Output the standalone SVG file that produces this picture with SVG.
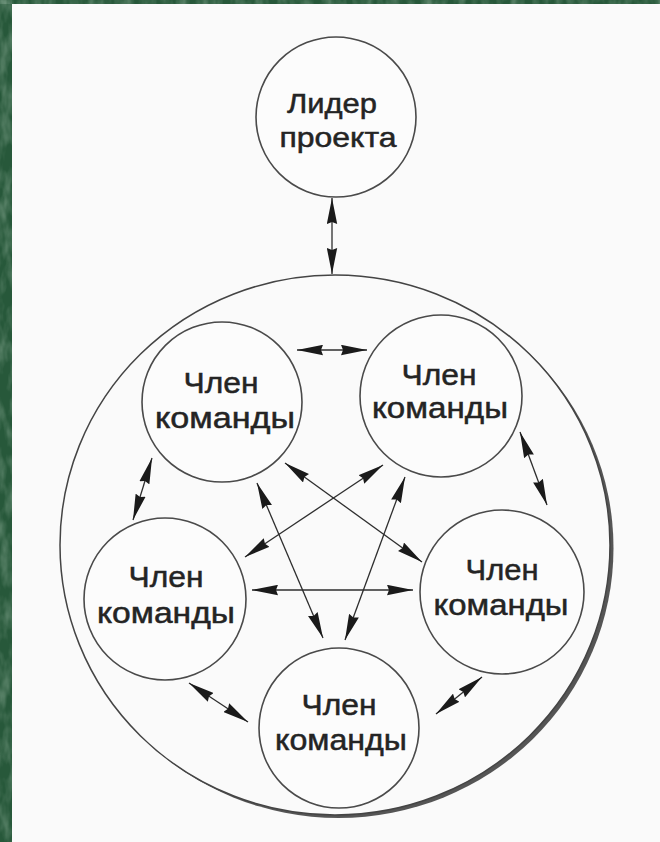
<svg xmlns="http://www.w3.org/2000/svg" width="660" height="842" viewBox="0 0 660 842">
  <defs>
    <style>
      .node { fill: #fcfcfc; stroke: #4a4a4a; stroke-width: 1.6; }
      .t { font-family: "Liberation Sans", Arial, sans-serif; font-size: 30px; fill: #242424; stroke: #242424; stroke-width: 0.5; text-anchor: middle; }
      .lt { font-family: "Liberation Sans", Arial, sans-serif; font-size: 28px; fill: #242424; stroke: #242424; stroke-width: 0.5; text-anchor: middle; }
      .conn { stroke: #2e2e2e; stroke-width: 1.3; fill: none; marker-start: url(#ah); marker-end: url(#ah); }
    </style>
    <marker id="ah" viewBox="0 0 26 11" refX="26" refY="5.5" markerWidth="26" markerHeight="11" markerUnits="userSpaceOnUse" orient="auto-start-reverse">
      <path d="M0,0.3 L26,5.5 L0,10.7 L2,5.5 z" fill="#1a1a1a"/>
    </marker>
    <filter id="marble" x="0" y="0" width="100%" height="100%">
      <feTurbulence type="fractalNoise" baseFrequency="0.09 0.035" numOctaves="3" seed="7" result="n"/>
      <feColorMatrix in="n" type="matrix" values="0 0 0 0 0.75  0 0 0 0 0.9  0 0 0 0 0.78  1.4 0 0 0 -0.55"/>
    </filter>
  </defs>

  <g id="background">
    <rect x="0" y="0" width="660" height="842" fill="#fafafa"/>
    <rect x="0" y="0" width="12" height="842" fill="#27583a"/>
    <rect x="0" y="0" width="660" height="4" fill="#27583a"/>
    <rect x="0" y="0" width="12" height="842" filter="url(#marble)" opacity="0.45"/>
    <rect x="0" y="0" width="660" height="4" filter="url(#marble)" opacity="0.45"/>
  </g>

  <g id="team-boundary">
    <ellipse cx="338.5" cy="548" rx="275" ry="270" fill="#555"/>
    <ellipse cx="335" cy="545" rx="275" ry="270" fill="#fafafa" stroke="#444" stroke-width="1.5"/>
  </g>

  <g id="connectors">
    <line class="conn" x1="332" y1="198" x2="332" y2="274"/>
    <line class="conn" x1="297" y1="350" x2="367" y2="350"/>
    <line class="conn" x1="152" y1="458" x2="133" y2="520"/>
    <line class="conn" x1="520" y1="432" x2="547" y2="505"/>
    <line class="conn" x1="189" y1="683" x2="248" y2="722"/>
    <line class="conn" x1="482" y1="677" x2="436" y2="714"/>
    <line class="conn" x1="252" y1="590" x2="413" y2="590"/>
    <line class="conn" x1="285" y1="463" x2="422" y2="562"/>
    <line class="conn" x1="383" y1="465" x2="245" y2="557"/>
    <line class="conn" x1="257" y1="483" x2="323" y2="638"/>
    <line class="conn" x1="405" y1="477" x2="345" y2="640"/>
  </g>

  <g id="leader">
    <circle class="node" cx="336" cy="117" r="80"/>
    <text class="lt" x="332" y="113" textLength="90" lengthAdjust="spacingAndGlyphs">Лидер</text>
    <text class="lt" x="338" y="147" textLength="117" lengthAdjust="spacingAndGlyphs">проекта</text>
  </g>

  <g id="member-top-left">
    <circle class="node" cx="222" cy="402" r="80"/>
    <text class="t" x="221" y="393" textLength="75" lengthAdjust="spacingAndGlyphs">Член</text>
    <text class="t" x="225" y="428" textLength="140" lengthAdjust="spacingAndGlyphs">команды</text>
  </g>

  <g id="member-top-right">
    <circle class="node" cx="441" cy="396" r="81"/>
    <text class="t" x="439" y="385" textLength="75" lengthAdjust="spacingAndGlyphs">Член</text>
    <text class="t" x="440" y="418" textLength="136" lengthAdjust="spacingAndGlyphs">команды</text>
  </g>

  <g id="member-left">
    <circle class="node" cx="165" cy="599" r="81"/>
    <text class="t" x="166" y="587" textLength="75" lengthAdjust="spacingAndGlyphs">Член</text>
    <text class="t" x="166" y="623" textLength="138" lengthAdjust="spacingAndGlyphs">команды</text>
  </g>

  <g id="member-right">
    <circle class="node" cx="502" cy="592" r="82"/>
    <text class="t" x="502" y="580" textLength="73" lengthAdjust="spacingAndGlyphs">Член</text>
    <text class="t" x="501" y="615" textLength="135" lengthAdjust="spacingAndGlyphs">команды</text>
  </g>

  <g id="member-bottom">
    <circle class="node" cx="339" cy="728" r="80"/>
    <text class="t" x="339" y="715" textLength="75" lengthAdjust="spacingAndGlyphs">Член</text>
    <text class="t" x="341" y="750" textLength="132" lengthAdjust="spacingAndGlyphs">команды</text>
  </g>
</svg>
